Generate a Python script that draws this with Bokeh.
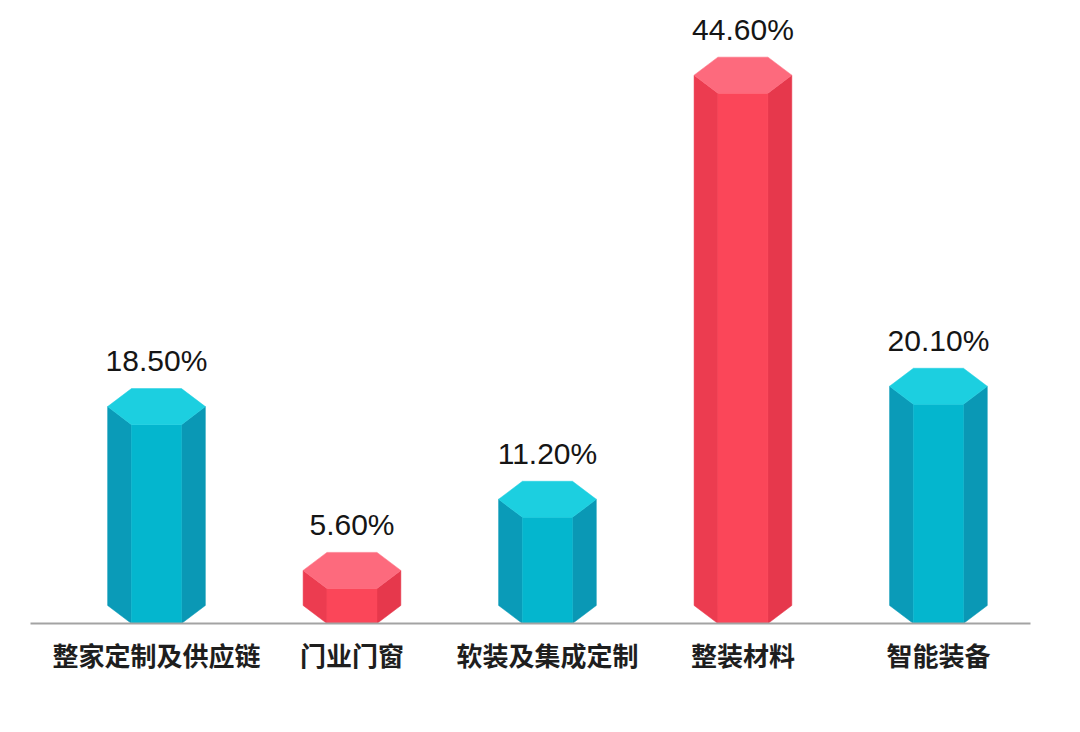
from bokeh.plotting import figure
from bokeh.models import ColumnDataSource, Range1d, FixedTicker
from bokeh.core.properties import value
from bokeh.embed import file_html
from bokeh.resources import INLINE

# ---- data ----
categories = ["整家定制及供应链", "门业门窗", "软装及集成定制", "整装材料", "智能装备"]
values = [18.5, 5.6, 11.2, 44.6, 20.1]
labels = ["18.50%", "5.60%", "11.20%", "44.60%", "20.10%"]
series_kind = ["blue", "red", "blue", "red", "blue"]

# ---- styles ----
palette = {
    "blue": {"top": "#1ccfe0", "front": "#04b6ce", "left": "#0a9bb8", "right": "#0a98b5"},
    "red": {"top": "#fd6a7d", "front": "#fb4659", "left": "#ec3c50", "right": "#e6384c"},
}
W = 0.25     # outer half width (x units)
A = 0.128    # inner half width (x units)
D = 1.42     # perspective depth (y units)

xs, ys, fills = [], [], []
for i, (v, k) in enumerate(zip(values, series_kind)):
    c = palette[k]
    xs.append([i - W, i - A, i - A, i - W]); ys.append([D, 0, v - 2 * D, v - D]); fills.append(c["left"])
    xs.append([i + W, i + A, i + A, i + W]); ys.append([D, 0, v - 2 * D, v - D]); fills.append(c["right"])
    xs.append([i - A, i + A, i + A, i - A]); ys.append([0, 0, v - 2 * D, v - 2 * D]); fills.append(c["front"])
    xs.append([i - W, i - A, i + A, i + W, i + A, i - A]); ys.append([v - D, v - 2 * D, v - 2 * D, v - D, v, v]); fills.append(c["top"])

src = ColumnDataSource(dict(xs=xs, ys=ys, fill=fills))

p = figure(frame_width=1000, frame_height=615, output_backend="svg", toolbar_location=None,
           x_range=Range1d(-0.6445, 4.471), y_range=Range1d(0, 48.43),
           y_axis_location=None, min_border_left=30, min_border_right=34,
           min_border_top=8, min_border_bottom=93)
p.outline_line_color = None
p.grid.visible = False
p.background_fill_color = "white"

p.patches("xs", "ys", source=src, fill_color="fill", line_color="fill", line_width=0.5)

tsrc = ColumnDataSource(dict(x=list(range(len(values))), y=values, t=labels))
p.text("x", "y", text="t", source=tsrc, text_align="center", text_baseline="alphabetic",
       y_offset=-28, text_font=value("Liberation Sans"), text_font_size="30px", text_color="#151515")

ax = p.xaxis[0]
ax.ticker = FixedTicker(ticks=list(range(len(categories))))
ax.major_label_overrides = {i: c for i, c in enumerate(categories)}
ax.axis_line_color = "#a3a3a3"
ax.axis_line_width = 2
ax.major_tick_line_color = None
ax.minor_tick_line_color = None
ax.major_tick_out = 0
ax.major_tick_in = 0
ax.major_label_standoff = 12
ax.major_label_text_font = "Noto Sans CJK SC"
ax.major_label_text_font_size = "26px"
ax.major_label_text_font_style = "bold"
ax.major_label_text_color = "#1e1e1e"

open("out.html", "w").write(file_html(p, INLINE))
